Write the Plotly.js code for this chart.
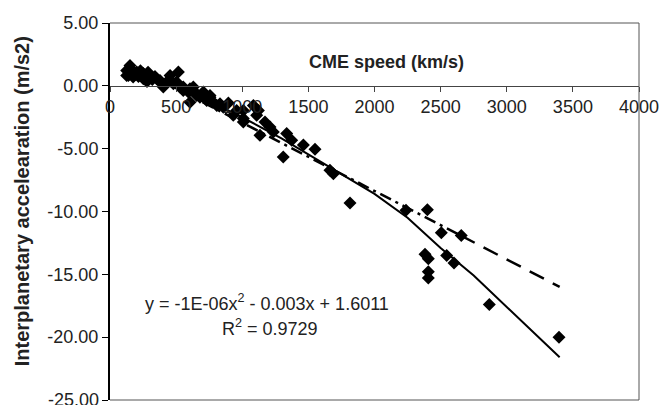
<!DOCTYPE html>
<html>
<head>
<meta charset="utf-8">
<script src="https://cdn.plot.ly/plotly-3.0.1.min.js"></script>
<style>html,body{margin:0;padding:0;background:#fff;}#chart{width:660px;height:405px;}</style>
</head>
<body>
<div id="chart"></div>
<script>
// Observed CMEs: speed (km/s) vs interplanetary acceleration (m/s2)
const speed = [126,151,139,176,126,175,202,227,252,252,288,302,353,378,391,403,429,454,479,504,517,529,554,554,592,605,605,630,655,655,680,706,731,731,756,756,781,807,832,857,895,932,958,1008,1008,1008,1084,1109,1122,1134,1172,1210,1235,1310,1336,1374,1462,1550,1663,1689,1815,2238,2400,2505,2656,2382,2407,2407,2407,2546,2601,2868,3395,160,190,215,270,320,340,150,230,280];
const accel = [1.22,1.62,0.83,1.09,0.83,0.70,1.10,0.96,0.98,0.56,1.09,0.70,0.56,0.43,0.17,-0.10,0.30,0.83,0.17,0.30,1.10,-0.10,-0.37,-0.10,-0.50,-0.23,-1.30,-0.10,-0.63,-0.76,-0.90,-0.50,-1.16,-1.03,-0.90,-0.76,-1.30,-1.56,-1.42,-1.70,-1.37,-2.35,-1.96,-2.60,-1.96,-2.88,-1.56,-2.35,-1.96,-3.94,-2.88,-3.28,-3.68,-5.67,-3.80,-4.34,-4.70,-5.05,-6.72,-6.99,-9.32,-9.90,-9.87,-11.70,-11.90,-13.40,-13.75,-14.80,-15.30,-13.50,-14.10,-17.40,-20.00,1.30,0.90,0.75,0.80,0.50,0.75,0.95,1.20,0.35];

// Solid trend curve
const curveX = [120,400,700,1000,1300,1650,2000,2250,2500,2750,3000,3200,3400];
const curveY = [1.2,0.2,-1.0,-2.5,-4.2,-6.4,-8.6,-10.5,-12.9,-15.1,-17.6,-19.6,-21.6];

// Linear trend (dash-dot part and dashed part)
const lineAX = [700,2650];
const lineAY = [-1.3,-11.9];
const lineBX = [2650,3400];
const lineBY = [-11.9,-16.0];

const xTicks = [0,500,1000,1500,2000,2500,3000,3500,4000];
const yTicks = [5,0,-5,-10,-15,-20,-25];

const xTitle = 'CME speed (km/s)';
const yTitle = 'Interplanetary accelearation (m/s2)';
const eqText = 'y = -1E-06x<sup>2</sup> - 0.003x + 1.6011';
const r2Text = 'R<sup>2</sup> = 0.9729';

const FONT = 'Liberation Sans, Arial, sans-serif';

const traces = [
  {x: curveX, y: curveY, mode: 'lines', line: {color: '#000', width: 2}, hoverinfo: 'skip'},
  {x: lineAX, y: lineAY, mode: 'lines', line: {color: '#000', width: 2.5, dash: '12px,5px,3px,5px'}, hoverinfo: 'skip'},
  {x: lineBX, y: lineBY, mode: 'lines', line: {color: '#000', width: 2.5, dash: '16px,10px'}, hoverinfo: 'skip'},
  {x: speed, y: accel, mode: 'markers', marker: {symbol: 'diamond', size: 10, color: '#000'}}
];

const L = 110, R = 639, T = 22.5, B = 400;
const px = v => (v - L) / (R - L);
const py = v => (B - v) / (B - T);

const yLast = yTicks[yTicks.length - 1];

const layout = {
  width: 660, height: 405,
  margin: {l: L, r: 660 - R, t: T, b: 405 - B, pad: 0},
  paper_bgcolor: '#fff', plot_bgcolor: '#fff',
  showlegend: false,
  font: {family: FONT, size: 18, color: '#000'},
  xaxis: {
    range: [0, 4000], tickvals: xTicks, ticktext: xTicks.map(String),
    anchor: 'free', position: 25/30, side: 'bottom',
    showline: true, linecolor: '#444', linewidth: 1,
    ticks: 'outside', ticklen: 5, tickcolor: '#444', tickwidth: 1,
    showgrid: false, zeroline: false,
    tickfont: {family: FONT, size: 18, color: '#222'}
  },
  yaxis: {
    range: [-25, 5], tickvals: yTicks, ticktext: yTicks.map(v => v.toFixed(2)),
    showline: true, linecolor: '#000', linewidth: 2,
    ticks: 'outside', ticklen: 6, tickcolor: '#000', tickwidth: 1,
    showgrid: false, zeroline: false,
    tickfont: {family: FONT, size: 18, color: '#222'}
  },
  shapes: [
    {type: 'line', xref: 'paper', yref: 'paper', x0: 0, x1: 1, y0: 1, y1: 1, line: {color: '#555', width: 1}},
    {type: 'line', xref: 'paper', yref: 'paper', x0: 1, x1: 1, y0: 0, y1: 1, line: {color: '#555', width: 1}},
    {type: 'line', xref: 'paper', yref: 'paper', x0: 0, x1: 1, y0: 0, y1: 0, line: {color: '#555', width: 1}}
  ],
  annotations: [
    {text: yLast.toFixed(2), xref: 'paper', yref: 'y', x: px(101), y: yLast, xanchor: 'right', yanchor: 'middle', showarrow: false, font: {family: FONT, size: 18, color: '#222'}},
    {text: '<b>' + xTitle + '</b>', xref: 'paper', yref: 'paper', x: px(386), y: py(62), xanchor: 'center', yanchor: 'middle', showarrow: false, font: {family: FONT, size: 18, color: '#222'}},
    {text: '<b>' + yTitle + '</b>', xref: 'paper', yref: 'paper', x: px(22), y: py(201), xanchor: 'center', yanchor: 'middle', textangle: -90, showarrow: false, font: {family: FONT, size: 20, color: '#222'}},
    {text: eqText, xref: 'paper', yref: 'paper', x: px(143), y: py(302), xanchor: 'left', yanchor: 'middle', showarrow: false, font: {family: FONT, size: 18, color: '#222'}},
    {text: r2Text, xref: 'paper', yref: 'paper', x: px(220), y: py(327), xanchor: 'left', yanchor: 'middle', showarrow: false, font: {family: FONT, size: 18, color: '#222'}}
  ]
};

Plotly.newPlot('chart', traces, layout, {staticPlot: true, displayModeBar: false});
</script>
</body>
</html>
